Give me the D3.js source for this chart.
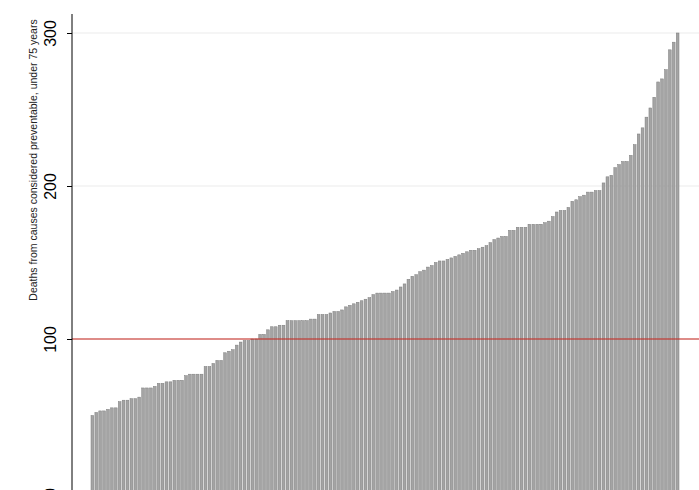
<!DOCTYPE html>
<html>
<head>
<meta charset="utf-8">
<script src="https://cdn.jsdelivr.net/npm/d3@7"></script>
<style>
  body { margin: 0; background: #fff; }
  svg text { font-family: "Liberation Sans", Arial, sans-serif; }
</style>
</head>
<body>
<svg id="chart" width="699" height="490"></svg>
<script>
// sorted values, one bar per area
var deaths = [50, 52, 53, 53, 54, 55, 55, 59, 60, 60, 61, 61, 62, 68, 68, 68, 69, 71, 71, 72,
  72, 73, 73, 73, 76, 77, 77, 77, 77, 82, 82, 84, 86, 86, 91, 92, 93, 96, 98, 99,
  99, 100, 100, 103, 103, 106, 108, 108, 109, 109, 112, 112, 112, 112, 112, 112, 113, 113, 116, 116,
  116, 117, 118, 118, 119, 121, 122, 123, 124, 125, 126, 127, 129, 130, 130, 130, 130, 131, 132, 134,
  136, 139, 141, 142, 144, 145, 147, 148, 150, 151, 151, 152, 153, 154, 155, 156, 157, 158, 158, 159,
  160, 161, 163, 165, 166, 167, 167, 171, 171, 173, 173, 173, 175, 175, 175, 175, 176, 177, 180, 183,
  184, 184, 186, 190, 191, 193, 194, 196, 196, 197, 197, 202, 206, 207, 212, 214, 216, 216, 220, 227,
  234, 238, 245, 251, 258, 268, 270, 276, 289, 294, 300];
var yTicks = [0, 100, 200, 300];
var refLine = 100;
var yTitle = "Deaths from causes considered preventable, under 75 years";

var svg = d3.select("#chart");

var x = d3.scaleBand().domain(d3.range(deaths.length)).range([91, 679]).paddingInner(0.3).paddingOuter(0);
var y = d3.scaleLinear().domain([0, 300]).range([492, 33]);

// gridlines
svg.append("g").selectAll("line").data(yTicks).enter().append("line")
  .attr("x1", 72).attr("x2", 699)
  .attr("y1", function(d){ return y(d); }).attr("y2", function(d){ return y(d); })
  .attr("stroke", "#ebebeb").attr("stroke-width", 1);

// bars
svg.append("g").selectAll("rect").data(deaths).enter().append("rect")
  .attr("x", function(d, i){ return x(i); })
  .attr("y", function(d){ return y(d); })
  .attr("width", x.bandwidth())
  .attr("height", function(d){ return y(0) - y(d); })
  .attr("fill", "#a4a4a4").attr("stroke", "#7c7c7c").attr("stroke-width", 0.5);

// red reference line
svg.append("line")
  .attr("x1", 72).attr("x2", 699)
  .attr("y1", y(refLine)).attr("y2", y(refLine))
  .attr("stroke", "#c8241c").attr("stroke-width", 1.2);

// y axis
var yAxis = d3.axisLeft(y).tickValues(yTicks).tickSize(5).tickSizeOuter(0);
var gy = svg.append("g").attr("transform", "translate(72,0)").call(yAxis);
gy.select(".domain").attr("stroke", "#000").attr("d", "M0,14V500");
gy.selectAll(".tick line").attr("stroke", "#000");
gy.selectAll(".tick text")
  .attr("font-size", 16).attr("fill", "#000")
  .attr("text-anchor", "middle")
  .attr("x", 0).attr("y", 0).attr("dy", 0)
  .attr("transform", "translate(-16,0) rotate(-90)");

// axis title
svg.append("text")
  .attr("transform", "translate(37,160) rotate(-90)")
  .attr("text-anchor", "middle")
  .attr("font-size", 10.5)
  .attr("fill", "#222")
  .text(yTitle);
</script>
</body>
</html>
